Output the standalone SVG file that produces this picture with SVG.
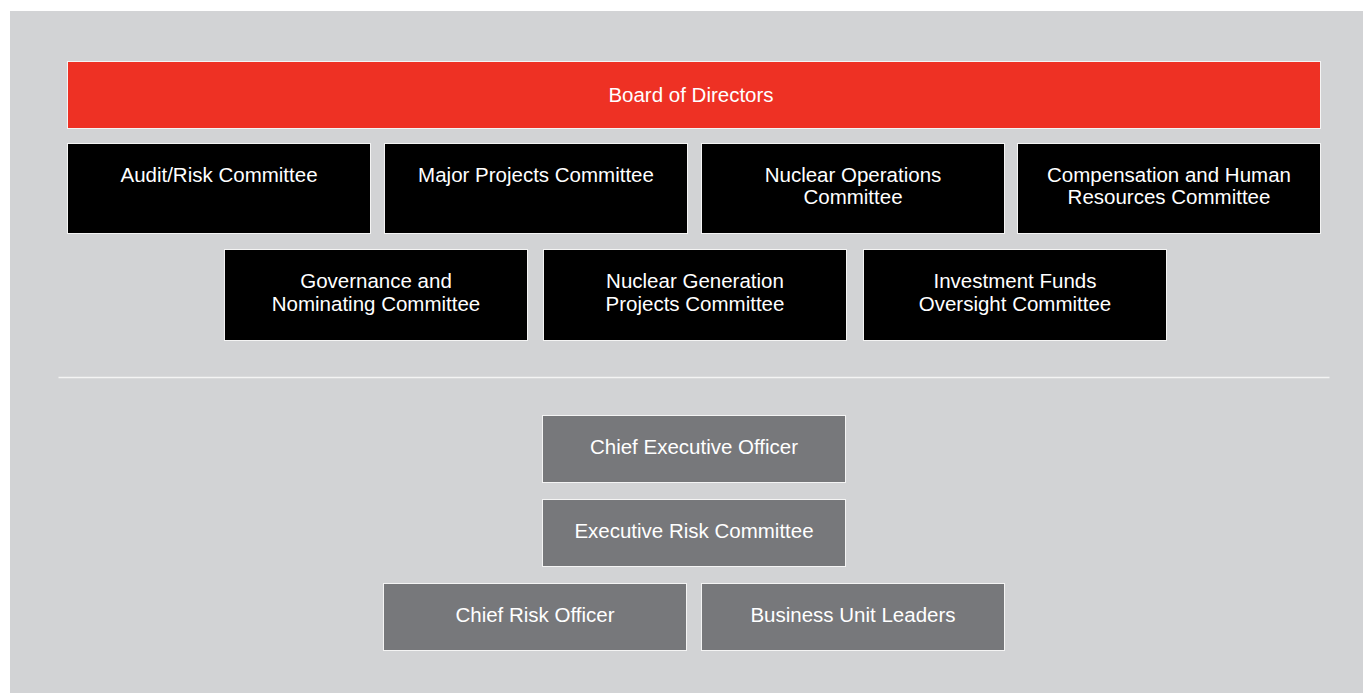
<svg xmlns="http://www.w3.org/2000/svg" width="1363" height="693" viewBox="0 0 1363 693">
<style>
.bg{fill:#d2d3d5}
.box{stroke:#f4f4f4;stroke-width:1}
.red{fill:#ee3124}
.blk{fill:#000000}
.gry{fill:#77787b}
.t{font-family:"Liberation Sans",Arial,Helvetica,sans-serif;font-size:20.5px;fill:#ffffff;text-anchor:middle}
</style>
<rect x="0" y="0" width="1363" height="693" fill="#ffffff"/>
<rect class="bg" x="10" y="11" width="1353" height="682"/>
<g id="board"><rect class="box red" x="67.5" y="61.5" width="1253" height="67"/><text class="t" x="691" y="102">Board of Directors</text></g>
<g id="audit"><rect class="box blk" x="67.5" y="143.5" width="303" height="90"/><text class="t" x="219" y="182">Audit/Risk Committee</text></g>
<g id="major"><rect class="box blk" x="384.5" y="143.5" width="303" height="90"/><text class="t" x="536" y="182">Major Projects Committee</text></g>
<g id="nucops"><rect class="box blk" x="701.5" y="143.5" width="303" height="90"/><text class="t" x="853" y="182">Nuclear Operations</text><text class="t" x="853" y="204">Committee</text></g>
<g id="comp"><rect class="box blk" x="1017.5" y="143.5" width="303" height="90"/><text class="t" x="1169" y="182">Compensation and Human</text><text class="t" x="1169" y="204">Resources Committee</text></g>
<g id="gov"><rect class="box blk" x="224.5" y="249.5" width="303" height="91"/><text class="t" x="376" y="288">Governance and</text><text class="t" x="376" y="311">Nominating Committee</text></g>
<g id="nucgen"><rect class="box blk" x="543.5" y="249.5" width="303" height="91"/><text class="t" x="695" y="288">Nuclear Generation</text><text class="t" x="695" y="311">Projects Committee</text></g>
<g id="invest"><rect class="box blk" x="863.5" y="249.5" width="303" height="91"/><text class="t" x="1015" y="288">Investment Funds</text><text class="t" x="1015" y="311">Oversight Committee</text></g>
<g id="connectors"><line x1="58.5" y1="377.5" x2="1329.5" y2="377.5" stroke="#f4f4f4" stroke-width="1.5"/></g>
<g id="ceo"><rect class="box gry" x="542.5" y="415.5" width="303" height="67"/><text class="t" x="694" y="454">Chief Executive Officer</text></g>
<g id="erc"><rect class="box gry" x="542.5" y="499.5" width="303" height="67"/><text class="t" x="694" y="538">Executive Risk Committee</text></g>
<g id="cro"><rect class="box gry" x="383.5" y="583.5" width="303" height="67"/><text class="t" x="535" y="622">Chief Risk Officer</text></g>
<g id="bul"><rect class="box gry" x="701.5" y="583.5" width="303" height="67"/><text class="t" x="853" y="622">Business Unit Leaders</text></g>
</svg>
